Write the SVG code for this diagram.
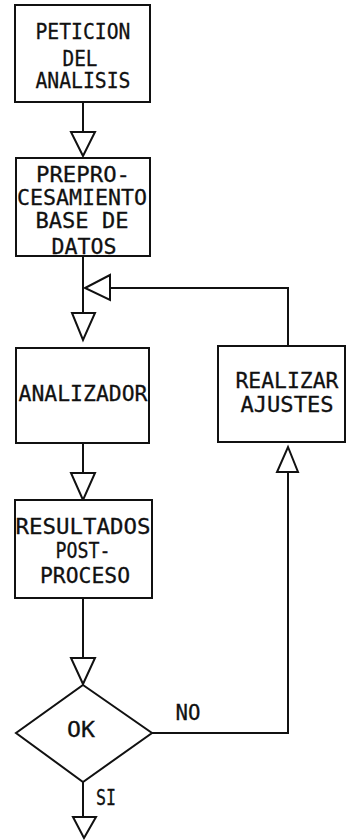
<svg xmlns="http://www.w3.org/2000/svg" width="346" height="840" viewBox="0 0 346 840">
<style>
.b{fill:#fff;stroke:#111;stroke-width:2}
.c{fill:none;stroke:#111;stroke-width:2}
.a{fill:#fff;stroke:#111;stroke-width:2;stroke-linejoin:miter}
text{font-family:"DejaVu Sans Mono","Liberation Mono",monospace;font-size:22px;fill:#111;text-anchor:middle;stroke:#111;stroke-width:0.3}
</style>
<rect x="0" y="0" width="346" height="840" fill="#fff"/>
<g id="connectors">
<path class="c" d="M83,102V132"/>
<polygon class="a" points="71,132 95,132 83,156"/>
<path class="c" d="M83,256V313"/>
<polygon class="a" points="72,313 95,313 83,340"/>
<path class="c" d="M288,346V288H110"/>
<polygon class="a" points="110,275 110,300 85,288"/>
<path class="c" d="M83,443V473"/>
<polygon class="a" points="71,473 95,473 83,500"/>
<path class="c" d="M83,598V658"/>
<polygon class="a" points="71,658 95,658 83,684"/>
<path class="c" d="M152,733H288V472"/>
<polygon class="a" points="277,472 298,472 288,447"/>
<path class="c" d="M83,782V817"/>
<polygon class="a" points="73,817 96,817 84,838"/>
<text x="188" y="720" textLength="25" lengthAdjust="spacingAndGlyphs">NO</text>
<text x="106" y="805" textLength="20" lengthAdjust="spacingAndGlyphs">SI</text>
</g>
<g id="peticion">
<rect class="b" x="15" y="5" width="135" height="97"/>
<text x="83" y="39" textLength="95" lengthAdjust="spacingAndGlyphs">PETICION</text>
<text x="80" y="66" textLength="35" lengthAdjust="spacingAndGlyphs">DEL</text>
<text x="83" y="88" textLength="95" lengthAdjust="spacingAndGlyphs">ANALISIS</text>
</g>
<g id="preproceso">
<rect class="b" x="16" y="158" width="134" height="98"/>
<text x="83" y="182" textLength="94" lengthAdjust="spacingAndGlyphs">PREPRO-</text>
<text x="82" y="205" textLength="130" lengthAdjust="spacingAndGlyphs">CESAMIENTO</text>
<text x="82" y="228" textLength="93" lengthAdjust="spacingAndGlyphs">BASE DE</text>
<text x="84" y="254" textLength="65" lengthAdjust="spacingAndGlyphs">DATOS</text>
</g>
<g id="analizador">
<rect class="b" x="16" y="348" width="133" height="95"/>
<text x="83" y="401" textLength="129" lengthAdjust="spacingAndGlyphs">ANALIZADOR</text>
</g>
<g id="ajustes">
<rect class="b" x="218" y="346" width="127" height="96"/>
<text x="287" y="388" textLength="103" lengthAdjust="spacingAndGlyphs">REALIZAR</text>
<text x="287" y="412" textLength="93" lengthAdjust="spacingAndGlyphs">AJUSTES</text>
</g>
<g id="resultados">
<rect class="b" x="15" y="500" width="137" height="98"/>
<text x="83" y="534" textLength="135" lengthAdjust="spacingAndGlyphs">RESULTADOS</text>
<text x="83" y="558" textLength="55" lengthAdjust="spacingAndGlyphs">POST-</text>
<text x="85" y="583" textLength="90" lengthAdjust="spacingAndGlyphs">PROCESO</text>
</g>
<g id="ok">
<polygon class="b" points="83,685 152,733 83,782 16,733"/>
<text x="81" y="737" textLength="28" lengthAdjust="spacingAndGlyphs">OK</text>
</g>
</svg>
